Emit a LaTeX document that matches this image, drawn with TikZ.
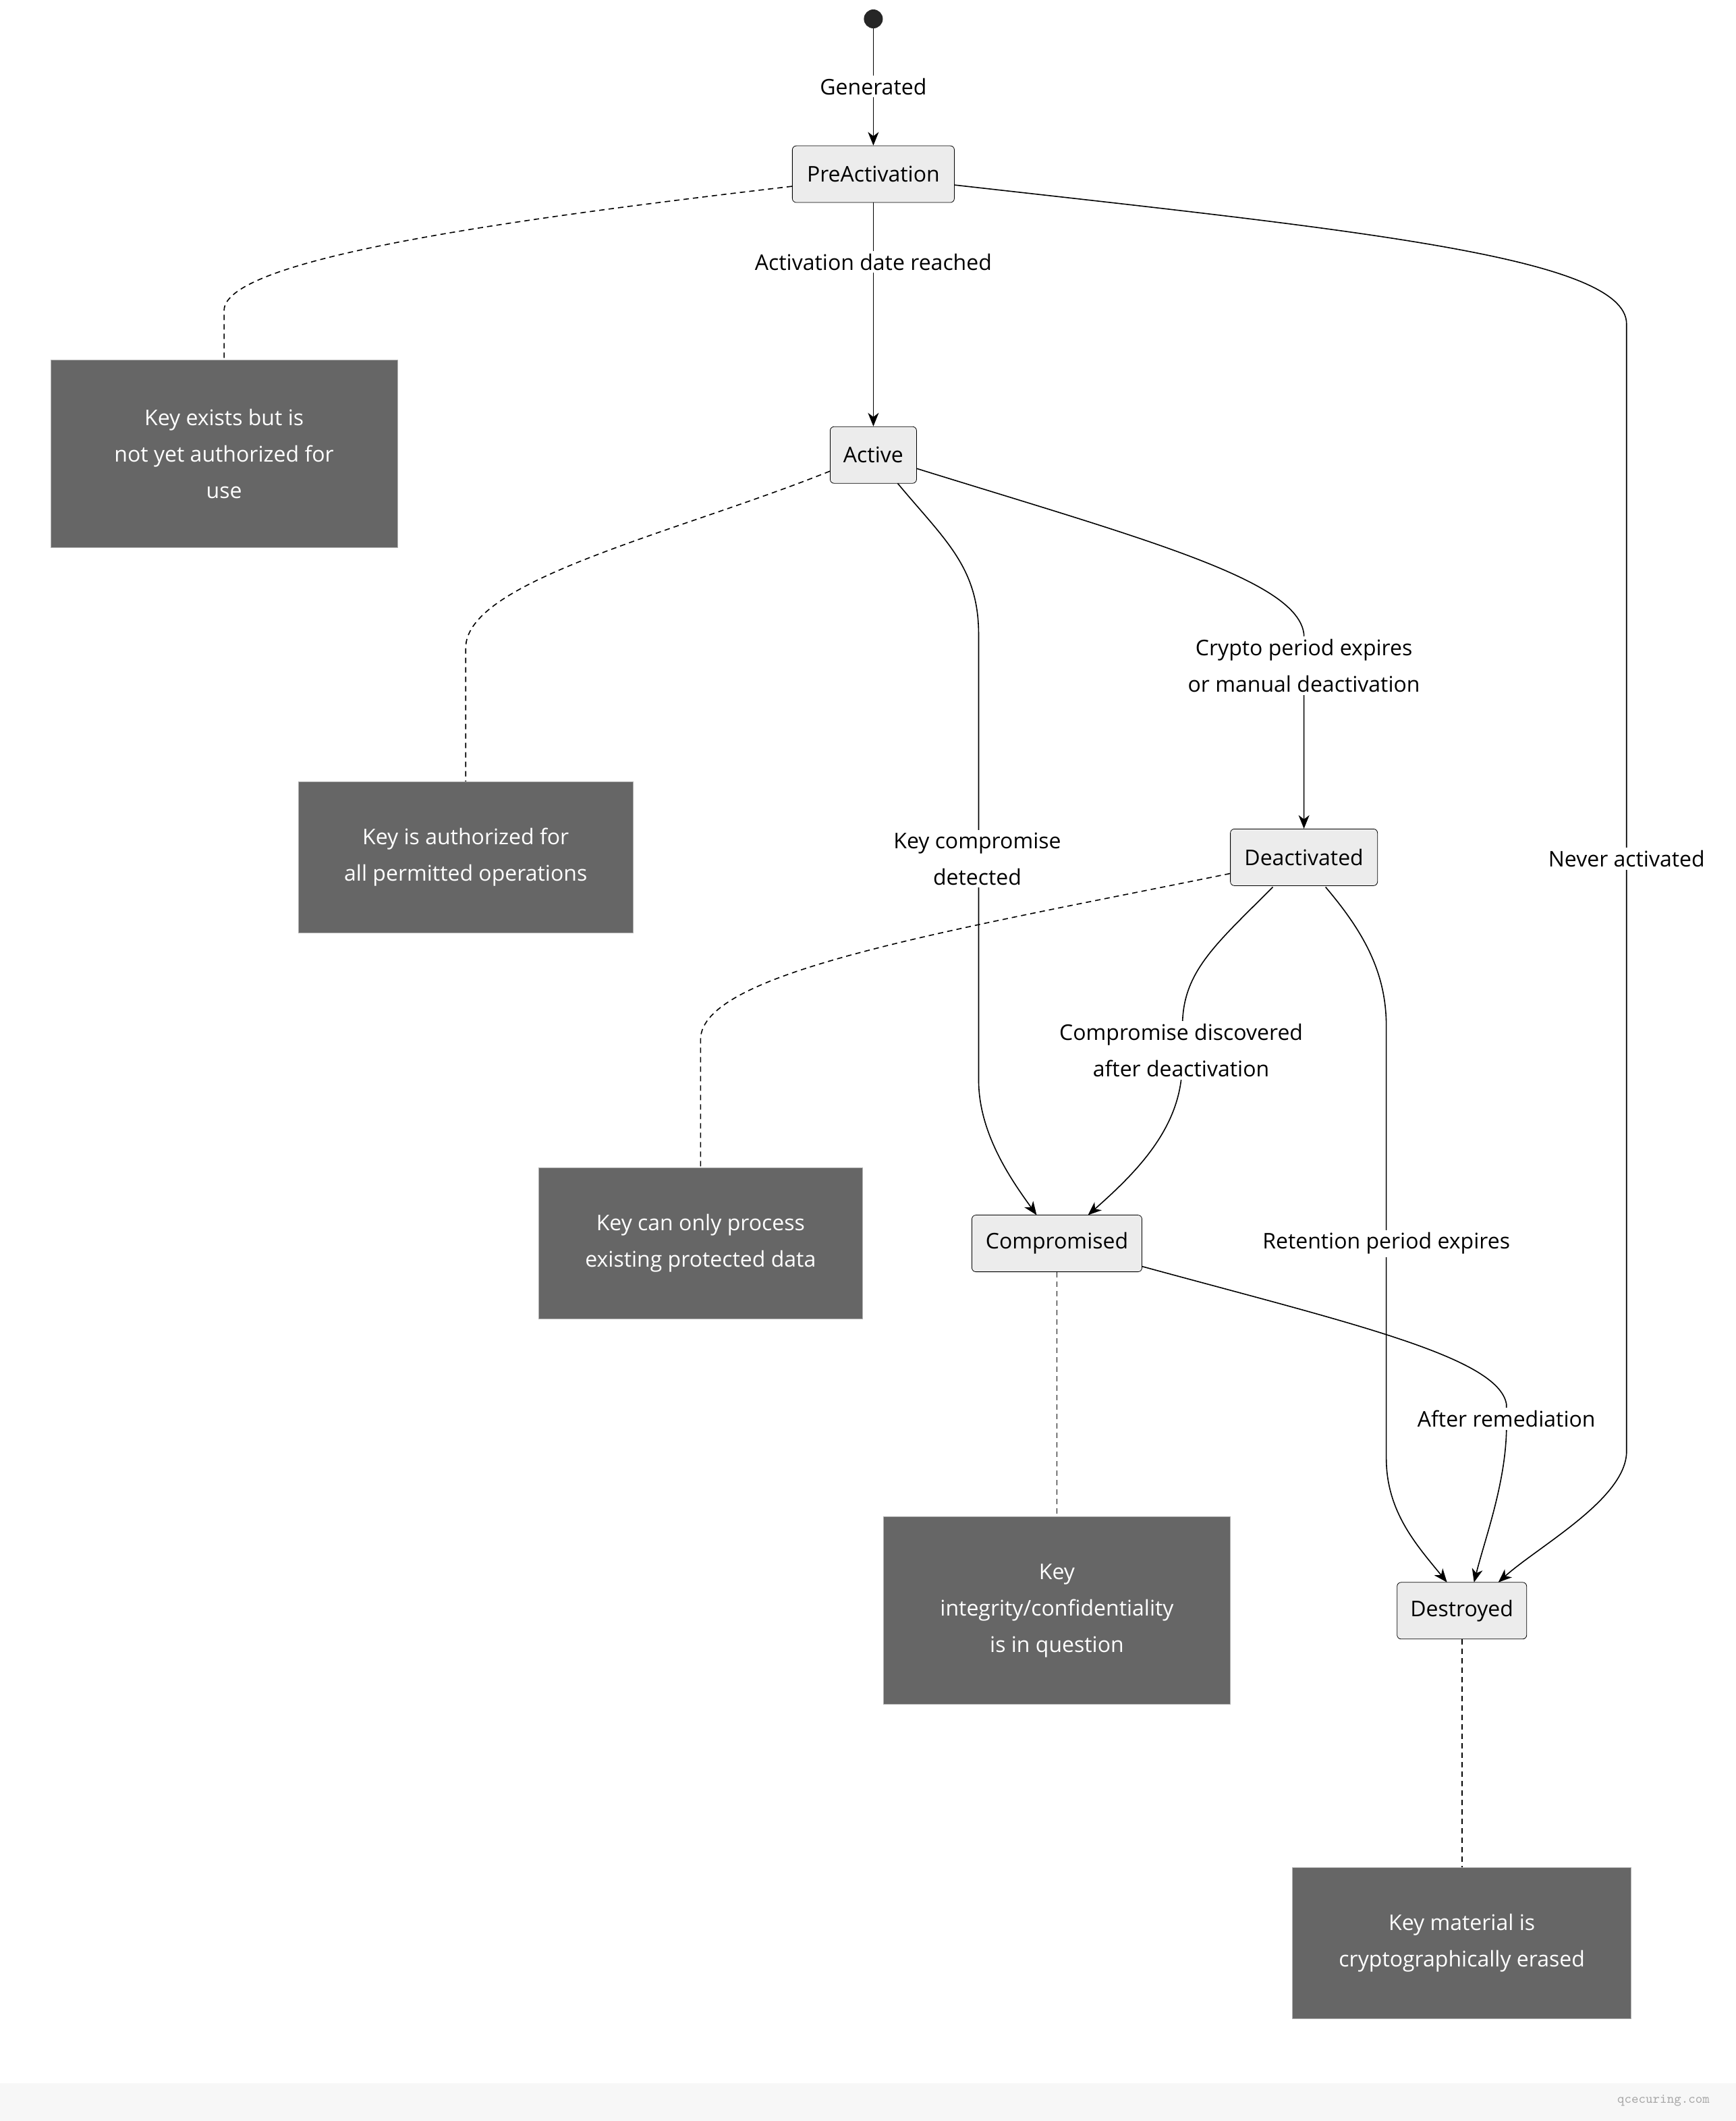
\documentclass[tikz,border=0pt]{standalone}
\usepackage{fontspec}
\setmainfont{Open Sans}
\usetikzlibrary{arrows.meta}
\definecolor{notefill}{HTML}{666666}
\definecolor{statefill}{HTML}{ECECEC}
\begin{document}
\begin{tikzpicture}[x=1pt,y=-1pt,
  state/.style={draw=black,fill=statefill,rounded corners=3pt,minimum height=42pt,inner xsep=8pt,font=\fontsize{16}{20}\selectfont},
  note/.style={draw=gray!60,fill=notefill,text=white,align=center,font=\fontsize{16}{27}\selectfont},
  lbl/.style={fill=white,inner sep=2pt,align=center,font=\fontsize{16}{27}\selectfont},
  tr/.style={draw=black,line width=0.8pt,-{Stealth[length=10pt,width=8pt,inset=3pt]}},
  dl/.style={draw=black,line width=0.8pt,dash pattern=on 4pt off 3pt}]
\useasboundingbox (0,0) rectangle (1286,1571);
\fill[black!3] (0,1543) rectangle (1286,1571);
\node[font=\ttfamily\fontsize{10}{12}\selectfont,text=gray!70,anchor=east] (wm) at (1270,1556) {qcecuring.com};

\node[circle,fill=black!85,minimum size=14pt,inner sep=0pt] (start) at (647,14) {};
\node[state,minimum width=120pt] (pre) at (647,129) {PreActivation};
\node[state,minimum width=64pt] (act) at (647,337) {Active};
\node[state,minimum width=109pt] (deact) at (966,635) {Deactivated};
\node[state,minimum width=126pt] (comp) at (783,921) {Compromised};
\node[state,minimum width=96pt] (dest) at (1083,1193) {Destroyed};

\node[note,minimum width=257pt,minimum height=139pt] (n1) at (166,336) {Key exists but is\\not yet authorized for\\use};
\node[note,minimum width=248pt,minimum height=112pt] (n2) at (345,635) {Key is authorized for\\all permitted operations};
\node[note,minimum width=240pt,minimum height=112pt] (n3) at (519,921) {Key can only process\\existing protected data};
\node[note,minimum width=257pt,minimum height=139pt] (n4) at (783,1193) {Key\\integrity/confidentiality\\is in question};
\node[note,minimum width=251pt,minimum height=112pt] (n5) at (1083,1439) {Key material is\\cryptographically erased};

% dashed note links
\draw[dl] (pre.west) ++(0,9) .. controls (400,160) and (166,190) .. (166,230) -- (n1.north);
\draw[dl] (act.west) ++(0,12) .. controls (500,395) and (345,430) .. (345,480) -- (n2.north);
\draw[dl] (deact.west) ++(0,12) .. controls (700,690) and (519,720) .. (519,770) -- (n3.north);
\draw[dl] (comp.south) -- (n4.north);
\draw[dl] (dest.south) -- (n5.north);

% transitions
\draw[tr] (start) -- (pre.north);
\node[lbl] (lg) at (647,64) {Generated};
\draw[tr] (pre.south) -- (act.north);
\node[lbl] (la) at (647,194) {Activation date reached};
\draw[tr] (707,137) .. controls (1000,170) and (1205,190) .. (1205,240) -- (1205,1075) .. controls (1205,1110) and (1140,1145) .. (1110,1172);
\node[lbl] (lna) at (1205,636) {Never activated};
\draw[tr] (679,347) .. controls (850,400) and (962,430) .. (966,470) -- (deact.north);
\node[lbl] (lad) at (966,493) {Crypto period expires\\or manual deactivation};
\draw[tr] (665,358) .. controls (700,400) and (725,420) .. (725,470) -- (725,800) .. controls (725,840) and (750,875) .. (768,900);
\node[lbl] (lac) at (724,636) {Key compromise\\detected};
\draw[tr] (943,657) .. controls (900,700) and (876,720) .. (876,760) -- (875,800) .. controls (870,840) and (840,870) .. (806,900);
\node[lbl] (ldc) at (875,778) {Compromise discovered\\after deactivation};
\draw[tr] (982,657) .. controls (1010,690) and (1027,720) .. (1027,760) -- (1027,1080) .. controls (1027,1120) and (1050,1145) .. (1072,1172);
\node[lbl] (lre) at (1027,921) {Retention period expires};
\draw[tr] (846,938) .. controls (1000,980) and (1110,1005) .. (1116,1040) -- (1116,1060) .. controls (1115,1100) and (1100,1140) .. (1092,1172);
\node[lbl] (lar) at (1116,1051) {After remediation};
\end{tikzpicture}
\end{document}
